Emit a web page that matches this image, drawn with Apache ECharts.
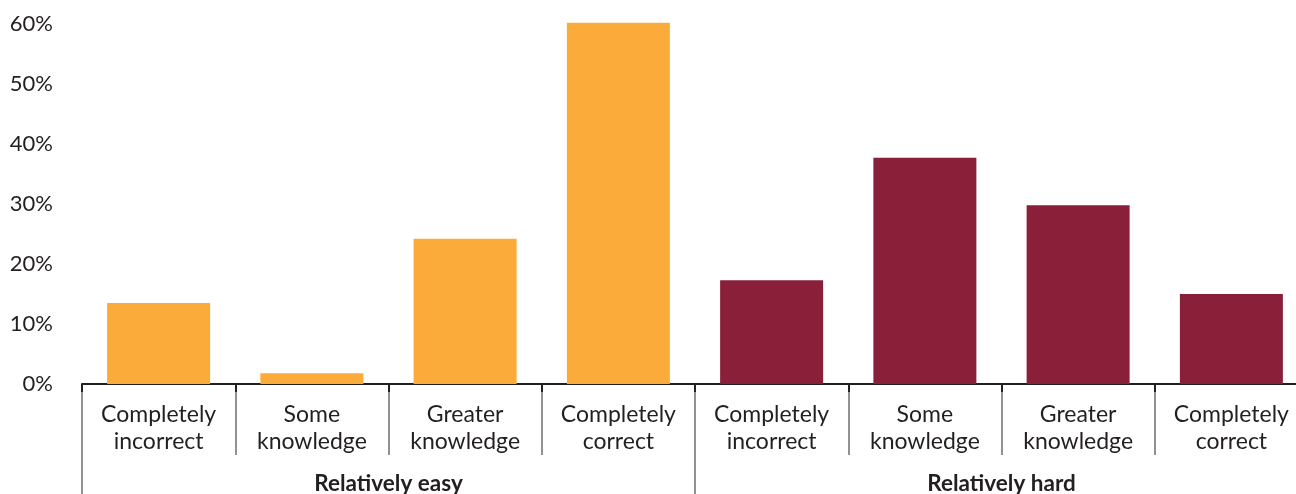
<!DOCTYPE html>
<html>
<head>
<meta charset="utf-8">
<script src="https://cdn.jsdelivr.net/npm/echarts@6/dist/echarts.min.js"></script>
<style>html,body{margin:0;padding:0;background:#fff}#c{width:1296px;height:494px}</style>
</head>
<body>
<div id="c"></div>
<script>
const categories = ['Completely\nincorrect','Some\nknowledge','Greater\nknowledge','Completely\ncorrect','Completely\nincorrect','Some\nknowledge','Greater\nknowledge','Completely\ncorrect'];
const groups = ['Relatively easy','Relatively hard'];
const easyValues = [13.5, 1.8, 24.2, 60.2, '-', '-', '-', '-'];
const hardValues = ['-', '-', '-', '-', 17.3, 37.7, 29.8, 15.0];
const yTicks = [0, 10, 20, 30, 40, 50, 60];

const FONT = 'Lato';
const TXT = '#231f20';
const chart = echarts.init(document.getElementById('c'), null, {renderer:'canvas'});
chart.setOption({
  animation: false,
  grid: {left: 82, width: 1226, top: 24, height: 360, containLabel: false, outerBoundsMode: 'none'},
  xAxis: [
    {
      type: 'category', data: categories, position: 'bottom', z: 2,
      axisLine: {show: true, lineStyle: {color: TXT, width: 2}},
      axisTick: {show: true, length: 71, lineStyle: {color: '#6d6e71', width: 1.5}},
      axisLabel: {color: TXT, fontFamily: FONT, fontSize: 23, lineHeight: 27, margin: 17, interval: 0}
    },
    {
      type: 'category', data: groups, position: 'bottom', offset: 0, z: 2,
      axisLine: {show: false},
      axisTick: {show: true, length: 112, lineStyle: {color: '#6d6e71', width: 1.5}},
      axisLabel: {color: TXT, fontFamily: FONT, fontSize: 22.5, fontWeight: 'bold', margin: 88, interval: 0}
    },
    {
      type: 'category', data: categories, position: 'bottom', offset: 0, z: 5,
      axisLine: {show: false},
      axisTick: {show: true, length: 8, lineStyle: {color: TXT, width: 2}},
      axisLabel: {show: false}
    }
  ],
  yAxis: {
    type: 'value', min: yTicks[0], max: yTicks[yTicks.length-1], interval: 10,
    axisLine: {show: false}, axisTick: {show: false}, splitLine: {show: false},
    axisLabel: {color: TXT, fontFamily: FONT, fontSize: 22, margin: 29, formatter: v => v + '%'}
  },
  series: [
    {type: 'bar', xAxisIndex: 0, data: easyValues, barWidth: 103, barGap: '-100%', clip: false, itemStyle: {color: '#faab3a'}},
    {type: 'bar', xAxisIndex: 0, data: hardValues, barWidth: 103, barGap: '-100%', clip: false, itemStyle: {color: '#8a1f3a'}}
  ]
});
</script>
</body>
</html>
